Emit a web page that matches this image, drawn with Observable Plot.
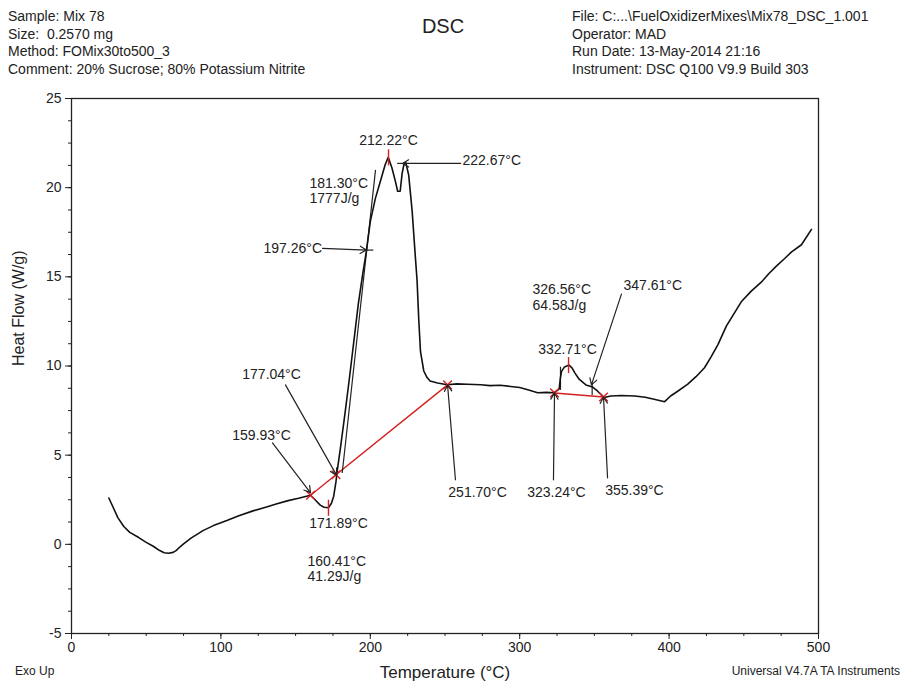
<!DOCTYPE html>
<html><head><meta charset="utf-8">
<script src="https://cdn.jsdelivr.net/npm/d3@7"></script>
<script src="https://cdn.jsdelivr.net/npm/@observablehq/plot@0.6"></script>
<style>
body{margin:0;background:#fff;font-family:"Liberation Sans",Arial,sans-serif;color:#222;}
#wrap{position:relative;width:902px;height:681px;overflow:hidden;}
#head{position:relative;height:80px;}
.col{position:absolute;top:8px;font-size:14px;line-height:17.5px;white-space:pre;}
#title{position:absolute;left:0;width:886px;text-align:center;top:15px;font-size:20px;}
.foot{position:absolute;top:664px;font-size:12px;white-space:nowrap;}
</style></head>
<body><div id="wrap">
<div id="head">
<div class="col" style="left:8px">Sample: Mix 78
Size:  0.2570 mg
Method: FOMix30to500_3
Comment: 20% Sucrose; 80% Potassium Nitrite</div>
<div id="title">DSC</div>
<div class="col" style="left:572px">File: C:...\FuelOxidizerMixes\Mix78_DSC_1.001
Operator: MAD
Run Date: 13-May-2014 21:16
Instrument: DSC Q100 V9.9 Build 303</div>
</div>
<div id="chart"></div>
<div class="foot" style="left:15px">Exo Up</div>
<div class="foot" style="right:2px">Universal V4.7A TA Instruments</div>
</div>
<script>
// DSC curve: temperature (°C) and heat flow (W/g)
const temps = [25,28,31,35,39,45,50,55,59,62,65,68,70,72.5,75,80,88,95,104,112,122,130,137,145,152,160,163,166.5,169,172,174,175.5,177,178,180,183,186,189,192,195,197.3,200,203.4,206.7,210,212,214.5,216.8,218.3,220,221.3,222.5,223.8,225.7,228,230,231.3,232.5,233.6,235.8,238,240,245,251.5,258,265,274,280,287,294,300,306,312,318,323,326.4,327.2,328,330,333,335,337,339.8,344.3,348.8,352,356.6,361,368,377,384,390,397,401,406,412.5,418,423.7,428,432.7,438.3,448.3,455,461.7,467,471.8,477,482,488.6,495.3];
const heatFlow = [2.6,2.05,1.5,1.0,0.67,0.38,0.11,-0.12,-0.35,-0.47,-0.5,-0.45,-0.35,-0.15,0.02,0.35,0.77,1.05,1.33,1.6,1.89,2.08,2.26,2.45,2.58,2.75,2.5,2.2,2.08,2.05,2.3,2.7,3.5,4.2,5.4,7.3,9.3,11.4,13.5,15.2,16.4,18.1,19.4,20.35,21.3,21.7,21.1,20.35,19.8,19.8,20.8,21.3,21.4,20.7,18.7,16.3,14.8,12.5,10.8,9.72,9.35,9.16,9.05,8.95,9.0,8.98,8.95,8.9,8.92,8.85,8.79,8.65,8.5,8.52,8.5,8.7,9.3,9.7,9.95,10.05,9.9,9.6,9.26,8.94,8.82,8.6,8.23,8.32,8.35,8.32,8.25,8.14,8.0,8.32,8.6,8.98,9.4,9.9,10.5,11.2,12.24,13.6,14.2,14.7,15.2,15.6,16.0,16.4,16.8,17.66];

// axis ticks
const xTicks = [0,100,200,300,400,500];
const yTicks = [-5,0,5,10,15,20,25];

// annotation labels: text, temperature, heat flow, anchor
const labelText = ["212.22°C","222.67°C","181.30°C","1777J/g","197.26°C","177.04°C","159.93°C","171.89°C","160.41°C","41.29J/g","251.70°C","323.24°C","355.39°C","326.56°C","64.58J/g","347.61°C","332.71°C"];
const labelT    = [212.2,261.7,159.3,159.3,128.5,133.9,127.2,178.7,158,158,271.8,324.6,376.8,308.6,308.6,369.5,332];
const labelHF   = [22.62,21.53,20.24,19.4,16.6,9.5,6.08,1.16,-0.96,-1.8,2.89,2.89,3.0,14.3,13.4,14.53,10.9];
const labelAnchor = ["middle","start","start","start","start","middle","middle","middle","start","start","middle","middle","middle","start","start","start","middle"];

// arrows: from (T, HF) to (T, HF)
const arrowT1  = [260.4,168,143.2,134.5,257,322.6,358.8,368.1];
const arrowHF1 = [21.36,16.6,8.94,5.69,3.62,3.62,3.73,14.03];
const arrowT2  = [221.5,197.4,177.4,160,251.7,323.3,356.1,348];
const arrowHF2 = [21.36,16.5,3.88,2.89,8.94,8.49,8.26,8.94];

// integration baselines (red)
const baseT1 = [160,323.3], baseHF1 = [2.75,8.49];
const baseT2 = [251.7,356.1], baseHF2 = [8.94,8.26];

// red cross markers and red peak ticks
const crossT = [160,177.04,251.7,323.3,356.1];
const crossHF = [2.75,3.9,8.94,8.49,8.26];
const peakT = [172,212.2,332.7];
const peakHF = [2.05,21.7,10.05];

// black tangent / marker segments
const segT1 = [181.2,327.3,348.5,197.4,218];
const segHF1 = [4.0,8.66,8.38,16.5,21.36];
const segT2 = [203.5,327.3,348.5,202,221.5];
const segHF2 = [21.0,9.96,8.99,16.5,21.36];

const curve = temps.map((t,i)=>({t,h:heatFlow[i]}));
const labels = labelText.map((s,i)=>({s,t:labelT[i],h:labelHF[i],a:labelAnchor[i]}));
const arrows = arrowT1.map((t,i)=>({x1:t,y1:arrowHF1[i],x2:arrowT2[i],y2:arrowHF2[i]}));
const bases = baseT1.map((t,i)=>({x1:t,y1:baseHF1[i],x2:baseT2[i],y2:baseHF2[i]}));
const crosses = crossT.map((t,i)=>({t,h:crossHF[i]}));
const peaks = peakT.map((t,i)=>({t,h:peakHF[i]}));
const segs = segT1.map((t,i)=>({x1:t,y1:segHF1[i],x2:segT2[i],y2:segHF2[i]}));

const font = "Liberation Sans, Arial, sans-serif";
const minorX = d3.range(0,501,25), minorY = d3.range(-5,25.01,1.25);

const chart = Plot.plot({
  width: 902, height: 601,
  marginTop: 18, marginLeft: 71, marginRight: 84, marginBottom: 48,
  style: {fontFamily: font, fontSize: "14px", color: "#222", background: "#fff"},
  x: {domain: [0,500]},
  y: {domain: [-5,25]},
  marks: [
    Plot.frame({stroke: "#222", strokeWidth: 1.3}),
    Plot.axisX(minorX, {tickSize: 3, text: null, label: null, stroke: "#222"}),
    Plot.axisX(xTicks, {tickSize: 6, tickPadding: 3, fontSize: 14, label: null, stroke: "#222", tickFormat: d => String(d)}),
    Plot.axisY(minorY, {tickSize: 3, text: null, label: null, stroke: "#222"}),
    Plot.axisY(yTicks, {tickSize: 6, tickPadding: 4, fontSize: 14, label: null, stroke: "#222", tickFormat: d => String(d)}),
    Plot.text(["Temperature (°C)"], {frameAnchor: "bottom", dy: 44, fontSize: 17, fill: "#222"}),
    Plot.text(["Heat Flow (W/g)"], {frameAnchor: "left", dx: -53, rotate: -90, fontSize: 16, fill: "#222"}),
    Plot.link(bases, {x1:"x1", y1:"y1", x2:"x2", y2:"y2", stroke: "#d42020", strokeWidth: 1.4}),
    Plot.link(segs, {x1:"x1", y1:"y1", x2:"x2", y2:"y2", stroke: "#222", strokeWidth: 1.2}),
    Plot.line(curve, {x: "t", y: "h", stroke: "#111", strokeWidth: 1.6}),
    Plot.link(peaks, {x1:"t", x2:"t", y1: d=>d.h-0.45, y2: d=>d.h+0.45, stroke: "#d42020", strokeWidth: 1.4}),
    Plot.dot(crosses, {x:"t", y:"h", symbol: "times", r: 4, stroke: "#d42020", strokeWidth: 1.4}),
    Plot.arrow(arrows, {x1:"x1", y1:"y1", x2:"x2", y2:"y2", stroke: "#222", strokeWidth: 1.2, headLength: 9, bend: 0}),
    Plot.text(labels.filter(d=>d.a==="middle"), {x:"t", y:"h", text:"s", textAnchor: "middle", fontSize: 14, fill: "#222"}),
    Plot.text(labels.filter(d=>d.a==="start"), {x:"t", y:"h", text:"s", textAnchor: "start", fontSize: 14, fill: "#222"})
  ]
});
document.getElementById("chart").appendChild(chart);
</script>
</body></html>
